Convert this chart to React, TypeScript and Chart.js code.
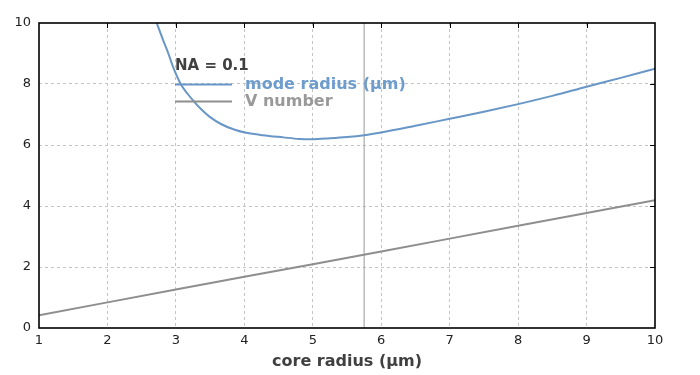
import React, { useEffect, useRef } from "react";
import { Chart, registerables } from "chart.js";

Chart.register(...registerables);

// core radius (µm) samples for the mode radius curve
const modeX = [2.72, 2.82, 2.89, 2.96, 3.07, 3.17, 3.275, 3.37, 3.49, 3.665, 3.86, 4.03, 4.27, 4.57, 4.8, 5.0, 5.25, 5.5, 5.75, 6.0, 6.5, 7.0, 7.5, 8.0, 8.5, 9.0, 9.5, 10.0];
const modeY = [10.0, 9.4, 9.0, 8.55, 8.0, 7.68, 7.4, 7.17, 6.93, 6.68, 6.5, 6.4, 6.32, 6.25, 6.2, 6.19, 6.22, 6.26, 6.32, 6.41, 6.63, 6.86, 7.09, 7.34, 7.61, 7.91, 8.2, 8.5];

const vX = [1, 2, 3, 4, 5, 6, 7, 8, 9, 10];
const vY = [0.42, 0.84, 1.26, 1.68, 2.09, 2.51, 2.93, 3.35, 3.77, 4.19];

const markerX = 5.75;
const yRange = [0, 10];
const xRange = [1, 10];

const legendTitle = "NA = 0.1";
const seriesNames = ["mode radius (µm)", "V number"];
const xTitle = "core radius (µm)";

const BLUE = "#6896c6";
const GRAY = "#8e8e8e";

const framePlugin = {
  id: "frameAndLegend",
  afterDraw(chart: any) {
    const { ctx, chartArea, scales } = chart;
    const { left, right, top, bottom } = chartArea;
    ctx.save();
    // inward ticks on top and right
    ctx.strokeStyle = "#000";
    ctx.lineWidth = 1;
    ctx.beginPath();
    for (let v = 2; v <= 9; v++) {
      const px = Math.round(scales.x.getPixelForValue(v)) + 0.5;
      ctx.moveTo(px, top);
      ctx.lineTo(px, top + 5);
    }
    for (let v = 2; v <= 8; v += 2) {
      const py = Math.round(scales.y.getPixelForValue(v)) + 0.5;
      ctx.moveTo(right, py);
      ctx.lineTo(right - 5, py);
    }
    ctx.stroke();
    // frame
    ctx.lineWidth = 1.6;
    ctx.strokeRect(left, top, right - left, bottom - top);

    // legend
    const lx = 175;
    ctx.textBaseline = "middle";
    ctx.textAlign = "left";
    ctx.font = "bold 15px 'DejaVu Sans'";
    ctx.fillStyle = "#404040";
    ctx.fillText(legendTitle, lx, 66);
    const rows = [
      { y: 84.5, color: BLUE, text: seriesNames[0], tc: "#6e9ccc" },
      { y: 101.5, color: GRAY, text: seriesNames[1], tc: "#999999" },
    ];
    for (const r of rows) {
      ctx.strokeStyle = r.color;
      ctx.lineWidth = 2;
      ctx.beginPath();
      ctx.moveTo(lx, r.y);
      ctx.lineTo(232, r.y);
      ctx.stroke();
      ctx.font = "bold 16px 'DejaVu Sans'";
      ctx.fillStyle = r.tc;
      ctx.fillText(r.text, 245, r.y + 0.5);
    }
    ctx.restore();
  },
};

export default function App() {
  const ref = useRef<HTMLCanvasElement>(null);
  useEffect(() => {
    document.body.style.margin = "0";
    const canvas = ref.current!;
    const chart = new Chart(canvas, {
      type: "scatter",
      data: {
        datasets: [
          {
            label: seriesNames[0],
            data: modeX.map((x, i) => ({ x, y: modeY[i] })),
            showLine: true,
            borderColor: BLUE,
            borderWidth: 2,
            pointRadius: 0,
            cubicInterpolationMode: "monotone",
          },
          {
            label: seriesNames[1],
            data: vX.map((x, i) => ({ x, y: vY[i] })),
            showLine: true,
            borderColor: GRAY,
            borderWidth: 2,
            pointRadius: 0,
          },
          {
            label: "marker",
            data: [
              { x: markerX, y: yRange[0] },
              { x: markerX, y: yRange[1] },
            ],
            showLine: true,
            borderColor: "#999999",
            borderWidth: 1,
            pointRadius: 0,
          },
        ],
      },
      options: {
        animation: false,
        responsive: false,
        maintainAspectRatio: false,
        layout: { padding: { top: 23, right: 45, left: 0, bottom: 0 } },
        plugins: { legend: { display: false }, tooltip: { enabled: false } },
        scales: {
          x: {
            type: "linear",
            min: xRange[0],
            max: xRange[1],
            afterFit: (s: any) => {
              s.height = 47;
            },
            ticks: {
              stepSize: 1,
              padding: 5,
              color: "#222",
              font: { family: "'DejaVu Sans'", size: 13 },
            },
            grid: {
              drawTicks: false,
              color: (c: any) => (c.tick && (c.tick.value === xRange[0] || c.tick.value === xRange[1]) ? "rgba(0,0,0,0)" : "#c4c4c4"),
              lineWidth: 1,
            },
            border: { display: false, dash: [3, 3] },
            title: {
              display: true,
              text: xTitle,
              color: "#404040",
              font: { family: "'DejaVu Sans'", size: 16, weight: "bold" },
              padding: { top: 0, bottom: 4 },
            },
          },
          y: {
            type: "linear",
            min: yRange[0],
            max: yRange[1],
            afterFit: (s: any) => {
              s.width = 39;
            },
            ticks: {
              stepSize: 2,
              padding: 8,
              color: "#222",
              font: { family: "'DejaVu Sans'", size: 13 },
            },
            grid: {
              drawTicks: false,
              color: (c: any) => (c.tick && (c.tick.value === yRange[0] || c.tick.value === yRange[1]) ? "rgba(0,0,0,0)" : "#c4c4c4"),
              lineWidth: 1,
            },
            border: { display: false, dash: [3, 3] },
          },
        },
      },
      plugins: [framePlugin],
    } as any);
    return () => chart.destroy();
  }, []);
  return (
    <div style={{ position: "absolute", left: 0, top: 0, width: 700, height: 375, background: "#fff" }}>
      <canvas ref={ref} width={700} height={375} style={{ width: 700, height: 375 }} />
    </div>
  );
}
